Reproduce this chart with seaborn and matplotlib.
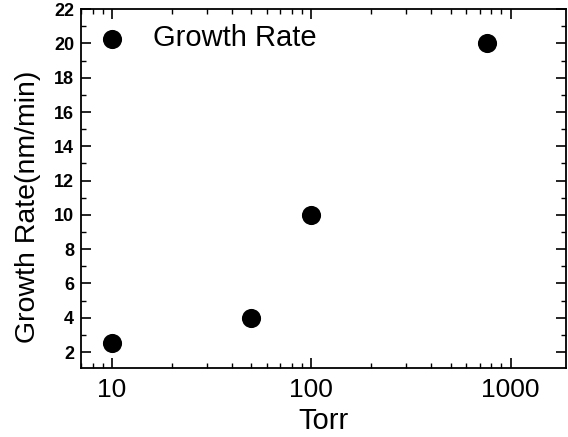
# Growth rate vs pressure scatter

import numpy as np
import pandas as pd
import matplotlib
matplotlib.use("Agg")
import matplotlib.pyplot as plt
from matplotlib.ticker import LogLocator, MultipleLocator, FixedLocator
import seaborn as sns

# Data
pressure_torr = [10, 50, 100, 760]
growth_rate = [2.5, 4.0, 10.0, 20.0]
series_name = "Growth Rate"

df = pd.DataFrame({"Torr": pressure_torr, "Growth Rate": growth_rate})

sns.set_style("ticks")
plt.rcParams['font.family'] = ['Liberation Sans', 'DejaVu Sans']
plt.rcParams['text.color'] = 'black'
plt.rcParams['axes.labelcolor'] = 'black'
plt.rcParams['xtick.color'] = 'black'
plt.rcParams['ytick.color'] = 'black'

fig = plt.figure(figsize=(5.68, 4.37), dpi=100)
ax = fig.add_axes([0.1426, 0.158, 0.854, 0.821])

sns.scatterplot(data=df, x="Torr", y="Growth Rate", ax=ax, s=190,
                color="black", edgecolor="black", linewidth=0, label=series_name)

ax.set_xscale("log")
ax.set_xlim(7, 1900)
ax.set_ylim(1.07, 22)

ax.xaxis.set_major_locator(FixedLocator([10, 100, 1000]))
ax.xaxis.set_minor_locator(LogLocator(base=10, subs=np.arange(2, 10)))
ax.xaxis.set_minor_formatter(plt.NullFormatter())
ax.set_xticklabels(["10", "100", "1000"])
ax.yaxis.set_major_locator(MultipleLocator(2))
ax.yaxis.set_minor_locator(MultipleLocator(1))

for s in ax.spines.values():
    s.set_visible(True)
    s.set_linewidth(1.3)
    s.set_color("black")

ax.tick_params(which="both", direction="in", top=True, right=True)
ax.tick_params(which="major", length=7, width=1.2)
ax.tick_params(which="minor", length=3.5, width=1.0)
ax.tick_params(axis="x", labelsize=19, pad=7)
ax.tick_params(axis="y", labelsize=13, pad=5)
for lab in ax.get_yticklabels():
    lab.set_fontweight("bold")

ax.set_xlabel("Torr", fontsize=21, labelpad=4)
ax.set_ylabel("Growth Rate(nm/min)", fontsize=20.5, labelpad=9)
ax.yaxis.label.set_y(0.448)

leg = ax.legend(loc="upper left", bbox_to_anchor=(0.01, 0.99), frameon=False,
                fontsize=21, handlelength=1.0, handletextpad=0.9,
                borderaxespad=0.0, markerscale=1.0)

fig.savefig("out.png", dpi=100)
